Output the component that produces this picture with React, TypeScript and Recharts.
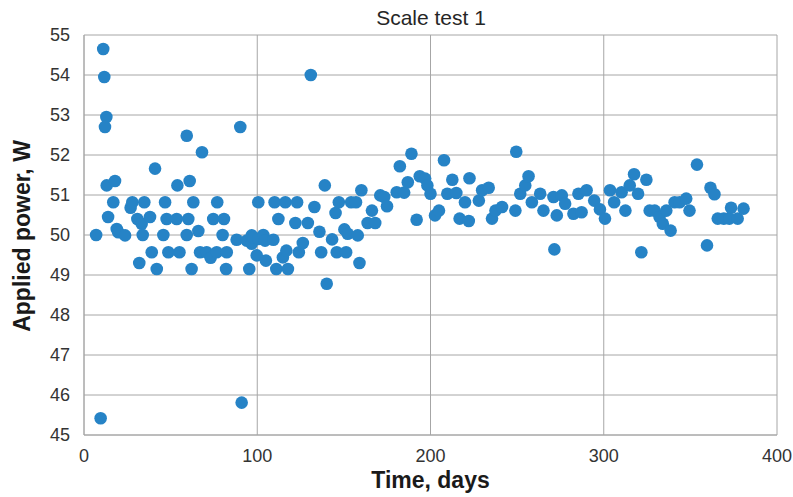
import React from 'react';
import { ScatterChart, Scatter, XAxis, YAxis, CartesianGrid } from 'recharts';

const days: number[] = [
  7, 9.6, 11.1, 11.7, 12.9, 12.1, 13.1, 17.9, 13.9, 16.9, 18.9, 19.8, 23.7, 26.9, 27.9, 30.8, 31.9, 33.3, 33.9, 34.8,
  38.1, 39.1, 41, 42, 45.8, 46.8, 47.7, 48.7, 53.5, 53.9, 55.1, 59.3, 59.3, 60.2, 61, 62.1, 63.1, 66, 67, 68.1,
  70.8, 73.1, 74.6, 76.6, 76.9, 80, 80.8, 82, 82.4, 88.1, 90.2, 91, 93.9, 95.4, 96.8, 96.8, 97.7, 99.7,
  100.6, 100.6, 103.5, 104.5, 105, 109.3, 110, 111, 112.2, 114.8, 116.2, 116.8, 117.7, 122, 123, 124, 126.3, 129.2,
  130.9, 133, 135.9, 136.9, 139, 140.1, 143.2, 145.2, 145.9, 147.1, 150.3, 151.3, 152.2, 154.2, 157, 158, 159, 160.1,
  163.7, 166.2, 168.1, 171, 173.3, 174.9, 180.5, 182.3, 184.8, 186.9, 189, 192, 193.8, 196.9, 198.2, 200,
  202.6, 204.9, 207.8, 209.7, 212.6, 214.9, 216.8, 219.9, 222.1, 222.5, 227.9, 229.8, 233.6, 235.5, 237.5, 241.3,
  249, 249.5, 251.8, 254.7, 256.6, 258.5, 263.3, 265.2, 271, 271.5, 272.9, 275.8, 277.7, 282.5, 285.4, 287.2, 290.1,
  294.5, 297.8, 300.7, 303.6, 306, 310.3, 312.5, 315, 317.5, 319.8, 321.7, 324.6, 326.5, 329.4, 332.2, 334.1, 336.1,
  338.6, 340.9, 343.8, 347.6, 349.5, 353.8, 359.6, 361.6, 363.9, 365.8, 369.3, 372.5, 373.5, 377.3, 380.7,
];

const power: number[] = [
  50.0, 45.42, 54.65, 53.95, 52.95, 52.7, 51.24, 51.35, 50.45, 50.82, 50.15, 50.07, 49.99, 50.68, 50.82, 50.4, 49.3, 50.28, 50.0, 50.82,
  50.45, 49.57, 51.66, 49.15, 50.0, 50.82, 50.4, 49.57, 50.4, 51.24, 49.57, 52.48, 50.0, 50.4, 51.35, 49.15, 50.82, 50.1, 49.57, 52.07,
  49.57, 49.43, 50.4, 49.57, 50.82, 50.0, 50.4, 49.15, 49.57, 49.88, 52.7, 45.81, 49.86, 49.15, 49.99, 49.78, 49.94, 49.49,
  50.82, 49.9, 50.0, 49.86, 49.36, 49.88, 50.82, 49.15, 50.4, 49.44, 50.82, 49.61, 49.15, 50.3, 50.82, 49.57, 49.8, 50.3,
  54.0, 50.7, 50.08, 49.57, 51.24, 48.78, 49.89, 50.55, 49.57, 50.82, 50.14, 49.57, 50.03, 50.82, 50.82, 49.99, 49.3, 51.12,
  50.3, 50.61, 50.3, 50.99, 50.95, 50.72, 51.07, 51.72, 51.06, 51.32, 52.03, 50.38, 51.47, 51.41, 51.24, 51.03,
  50.49, 50.61, 51.87, 51.03, 51.38, 51.05, 50.41, 50.82, 50.35, 51.42, 50.86, 51.12, 51.18, 50.41, 50.61, 50.7,
  50.61, 52.08, 51.03, 51.24, 51.47, 50.82, 51.03, 50.61, 50.95, 49.64, 50.49, 50.99, 50.78, 50.53, 51.03, 50.57, 51.12,
  50.86, 50.64, 50.41, 51.12, 50.82, 51.07, 50.61, 51.24, 51.52, 51.03, 49.57, 51.38, 50.61, 50.61, 50.45, 50.28, 50.61,
  50.11, 50.82, 50.82, 50.91, 50.61, 51.76, 49.74, 51.18, 51.02, 50.41, 50.41, 50.41, 50.68, 50.41, 50.66,
];

const xTicks: number[] = [0, 100, 200, 300, 400];
const yTicks: number[] = [45, 46, 47, 48, 49, 50, 51, 52, 53, 54, 55];

const data = days.map((d, i) => ({ day: d, power: power[i] }));

const FONT = '"Liberation Sans", Arial, Helvetica, sans-serif';

const Dot = (props: any) => {
  const { cx, cy } = props;
  if (cx == null || cy == null) return null;
  return <circle cx={cx} cy={cy} r={6.3} fill="#2683C6" />;
};

const YLabel = (props: any) => {
  const vb = props.viewBox || {};
  const x = 22;
  const y = (vb.y ?? 35) + (vb.height ?? 400) / 2 + 1;
  return (
    <text
      x={x}
      y={y}
      transform={`rotate(-90 ${x} ${y})`}
      textAnchor="middle"
      dominantBaseline="central"
      fontFamily={FONT}
      fontSize={23}
      fontWeight="bold"
      fill="#1a1a1a"
    >
      Applied power, W
    </text>
  );
};

const XLabel = (props: any) => {
  const vb = props.viewBox || {};
  const x = (vb.x ?? 84) + (vb.width ?? 693) / 2;
  return (
    <text x={x} y={488} textAnchor="middle" fontFamily={FONT} fontSize={23} fontWeight="bold" fill="#1a1a1a">
      Time, days
    </text>
  );
};

export default function App() {
  return (
    <div style={{ position: 'absolute', left: 0, top: 0, width: 793, height: 497, background: '#fff' }}>
      <div
        style={{
          position: 'absolute',
          left: 0,
          width: 862,
          top: 7,
          textAlign: 'center',
          fontFamily: FONT,
          fontSize: 21,
          lineHeight: '21px',
          color: '#262626',
        }}
      >
        Scale test 1
      </div>
      <ScatterChart width={793} height={497} margin={{ top: 35, right: 16, bottom: 0, left: 0 }}>
        <CartesianGrid stroke="#a6a6a6" strokeWidth={1} />
        <XAxis
          type="number"
          dataKey="day"
          domain={[0, 400]}
          ticks={xTicks}
          interval={0}
          height={62}
          tickLine={false}
          tickSize={6}
          tickMargin={8}
          axisLine={{ stroke: '#a6a6a6' }}
          tick={{ fontFamily: FONT, fontSize: 18, fill: '#333' }}
          label={{ content: XLabel }}
        />
        <YAxis
          type="number"
          dataKey="power"
          domain={[45, 55]}
          ticks={yTicks}
          interval={0}
          width={84}
          tickLine={false}
          tickSize={6}
          tickMargin={8}
          axisLine={{ stroke: '#a6a6a6' }}
          tick={{ fontFamily: FONT, fontSize: 18, fill: '#333' }}
          label={{ content: YLabel }}
        />
        <Scatter data={data} shape={<Dot />} isAnimationActive={false} />
      </ScatterChart>
    </div>
  );
}
